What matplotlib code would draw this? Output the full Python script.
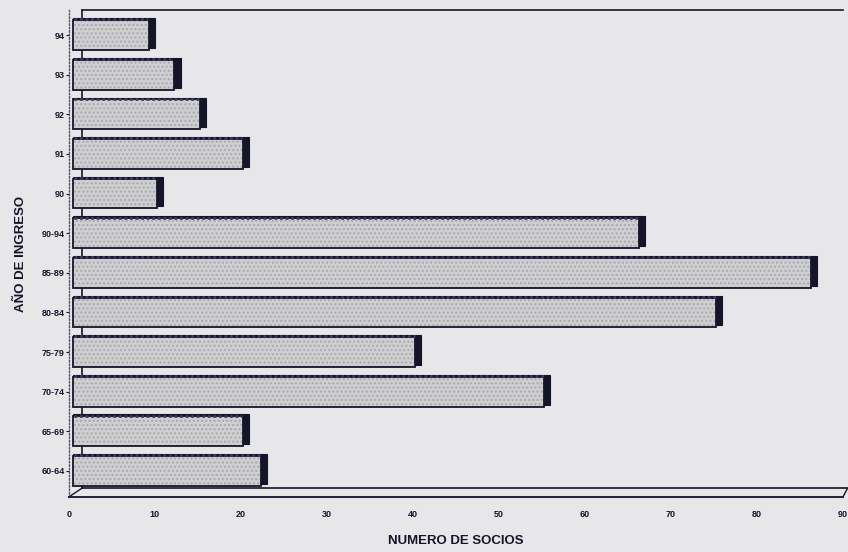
import numpy as np
import matplotlib.pyplot as plt

# data (bottom to top)
periodos = ['60-64', '65-69', '70-74', '75-79', '80-84', '85-89',
            '90-94', '90', '91', '92', '93', '94']
socios = [23, 21, 56, 41, 76, 87, 67, 11, 21, 16, 13, 10]
xticks = [0, 10, 20, 30, 40, 50, 60, 70, 80, 90]

plt.rcParams['font.family'] = ['Liberation Sans', 'DejaVu Sans']

bg = '#e7e7e9'
ink = '#15152a'
fig = plt.figure(figsize=(8.48, 5.52), dpi=100, facecolor=bg)
ax = fig.add_axes([0.081, 0.0996, 0.913, 0.882], facecolor=bg)

y = np.arange(len(periodos))
vals = np.array(socios, dtype=float)
h = 0.75

# dark depth / shadow behind each bar
ax.barh(y + 0.05, vals - 0.5, left=0.5, height=h, color=ink,
        edgecolor=ink, linewidth=0.8, zorder=2)
# front face with stipple
ax.barh(y, vals - 1.2, left=0.5, height=h, color='#cfcfd2',
        edgecolor='none', zorder=3)
ax.barh(y, vals - 1.2, left=0.5, height=h, color='none',
        edgecolor='#a8a8ae', hatch='....', linewidth=0, zorder=4)
ax.barh(y, vals - 1.2, left=0.5, height=h, color='none',
        edgecolor=ink, linewidth=1.3, zorder=5)
# dotted top band
for yi, v in zip(y, vals):
    ax.plot([0.6, v - 0.8], [yi + h / 2 + 0.02] * 2, color='#3a3a66',
            linestyle=(0, (1, 1)), linewidth=2, zorder=6)

ax.set_xlim(0, 90)
ax.set_ylim(-0.66, len(periodos) - 1 + 0.63)

# frame: dotted front axis, back wall, floor
for s in ['top', 'right']:
    ax.spines[s].set_visible(False)
ax.spines['left'].set_linestyle((0, (1, 1.5)))
ax.spines['left'].set_linewidth(1)
ax.spines['left'].set_color('#55556a')
ax.spines['bottom'].set_linewidth(1.3)
ax.spines['bottom'].set_color(ink)
bw = 0.017
fl = 0.018
ax.plot([bw, 1], [1, 1], transform=ax.transAxes, color=ink, lw=1.2, clip_on=False)
ax.plot([bw, bw], [fl, 1], transform=ax.transAxes, color=ink, lw=1.2, clip_on=False, zorder=1)
ax.plot([bw, 1.006], [fl, fl], transform=ax.transAxes, color=ink, lw=1.2, clip_on=False)
ax.plot([0, bw], [0, fl], transform=ax.transAxes, color=ink, lw=1, clip_on=False)
ax.plot([1, 1.006], [0, fl], transform=ax.transAxes, color=ink, lw=1, clip_on=False)

ax.set_yticks(y)
ax.set_yticklabels(periodos, fontsize=6.5, color=ink, fontweight='bold')
ax.set_xticks(xticks)
ax.set_xticklabels([str(t) for t in xticks], fontsize=6.5, color=ink, fontweight='bold')
ax.tick_params(axis='y', length=2, width=0.8, color=ink, pad=1)
ax.tick_params(axis='x', length=0, pad=9)

ax.set_xlabel('NUMERO DE SOCIOS', fontsize=9.5, fontweight='bold', color=ink, labelpad=12)
ax.set_ylabel('AÑO DE INGRESO', fontsize=9.5, fontweight='bold', color=ink, labelpad=10)

fig.savefig('out.png', dpi=100, facecolor=bg)
